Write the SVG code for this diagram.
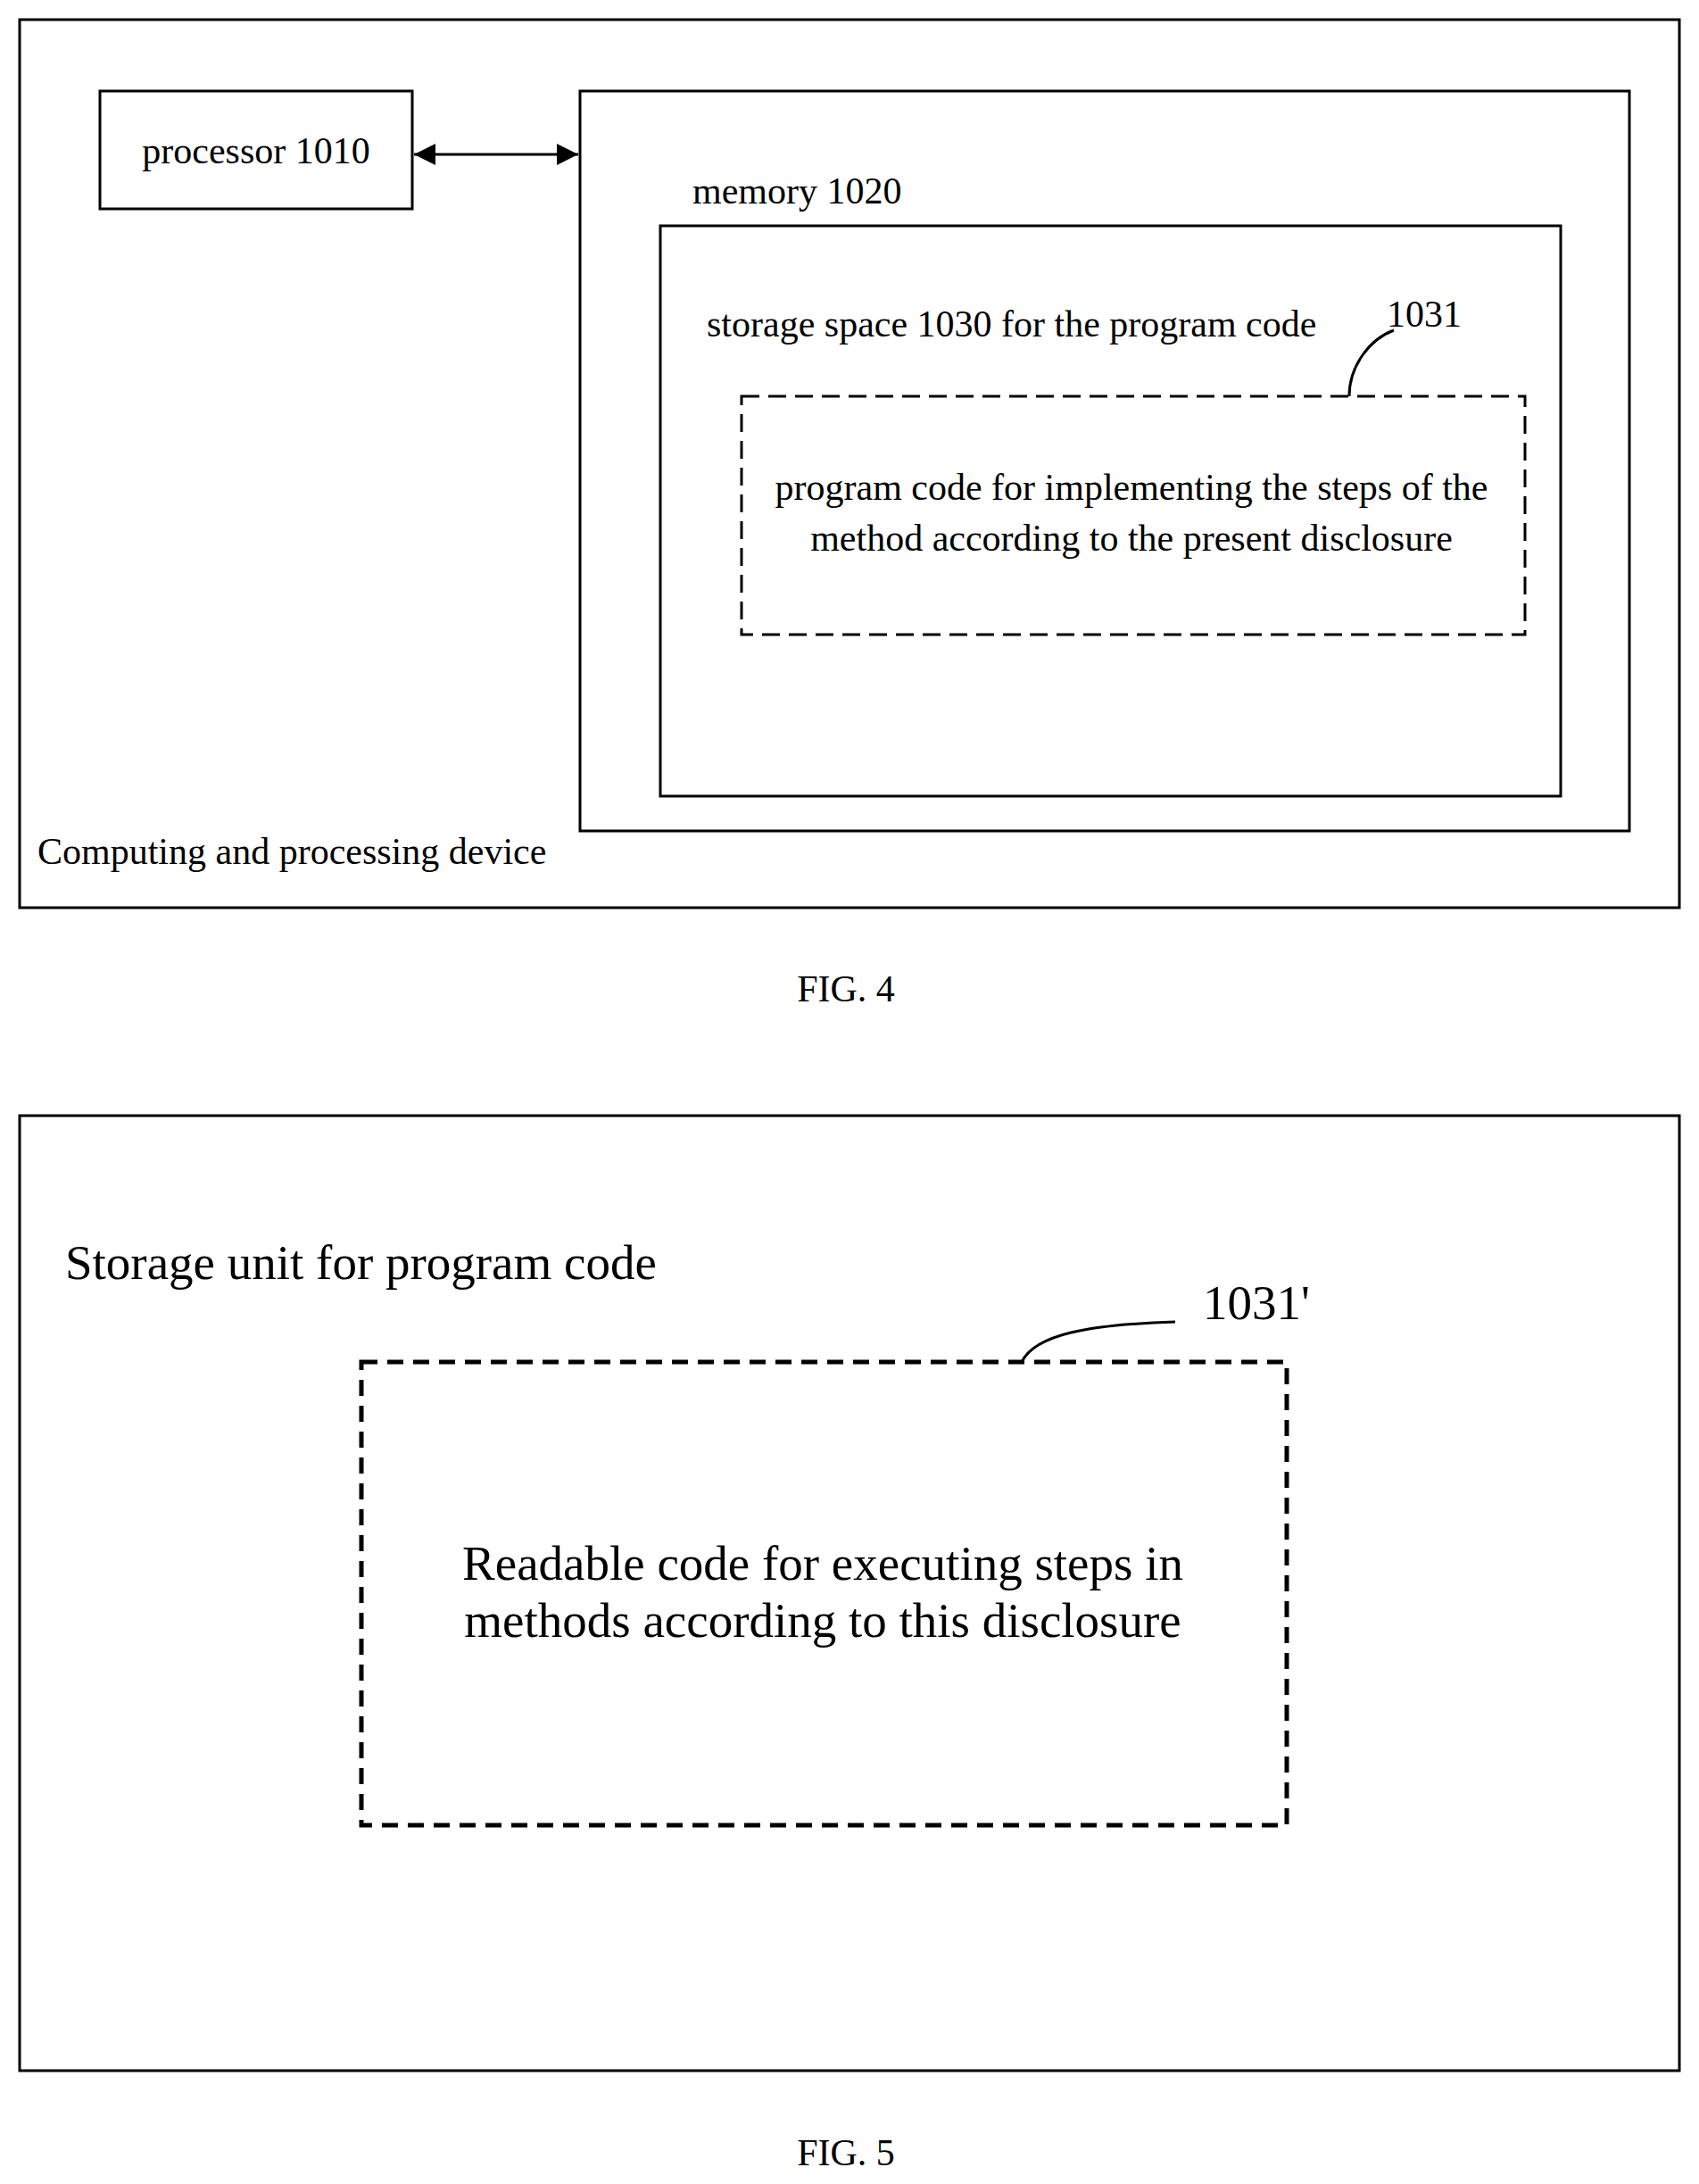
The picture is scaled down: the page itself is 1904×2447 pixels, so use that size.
<svg xmlns="http://www.w3.org/2000/svg" width="1904" height="2447" viewBox="0 0 1904 2447">
<style>
.b{fill:none;stroke:#000;stroke-width:3}
.d{fill:none;stroke:#000;stroke-width:3;stroke-dasharray:20 10}
.d2{fill:none;stroke:#000;stroke-width:5;stroke-dasharray:18 11}
text{font-family:"Liberation Serif",serif;fill:#000}
.s{font-size:42px}
.l{font-size:55px}
</style>
<defs><marker id="a" viewBox="0 0 10 10" refX="10" refY="5" markerWidth="8" markerHeight="8" orient="auto-start-reverse"><path d="M0 0L10 5L0 10z"/></marker></defs>
<rect width="1904" height="2447" fill="#fff"/>
<g id="device"><rect class="b" x="22" y="22" width="1860" height="995"/><text class="s" x="42" y="968">Computing and processing device</text></g>
<g id="processor"><rect class="b" x="112" y="102" width="350" height="132"/><text class="s" x="287" y="183" text-anchor="middle">processor 1010</text></g>
<g id="memory"><rect class="b" x="650" y="102" width="1176" height="829"/><text class="s" x="776" y="228">memory 1020</text></g>
<g id="storage"><rect class="b" x="740" y="253" width="1009" height="639"/><text class="s" x="792" y="377">storage space 1030 for the program code</text></g>
<g id="code"><rect class="d" x="831" y="444" width="878" height="267"/><text class="s" x="1268" y="560" text-anchor="middle">program code  for implementing the steps of the</text><text class="s" x="1268" y="617" text-anchor="middle">method according to the present disclosure</text><text class="s" x="1554" y="366">1031</text></g>
<g id="fig4"><text class="s" x="948" y="1122" text-anchor="middle">FIG. 4</text></g>
<g id="unit"><rect class="b" x="22" y="1250" width="1860" height="1070"/><text class="l" x="73" y="1433">Storage unit for program code</text></g>
<g id="readable"><rect class="d2" x="405" y="1526" width="1037" height="519"/><text class="l" x="922" y="1770" text-anchor="middle">Readable code for executing steps in</text><text class="l" x="922" y="1834" text-anchor="middle">methods according to this disclosure</text><text class="l" x="1348" y="1478">1031'</text></g>
<g id="fig5"><text class="s" x="948" y="2426" text-anchor="middle">FIG. 5</text></g>
<g id="connectors">
<line class="b" x1="464" y1="173" x2="648" y2="173" marker-start="url(#a)" marker-end="url(#a)"/>
<path class="b" d="M1512 444C1512 410 1535 380 1562 370"/>
<path class="b" d="M1145 1526C1160 1495 1220 1484 1317 1481"/>
</g>
</svg>
